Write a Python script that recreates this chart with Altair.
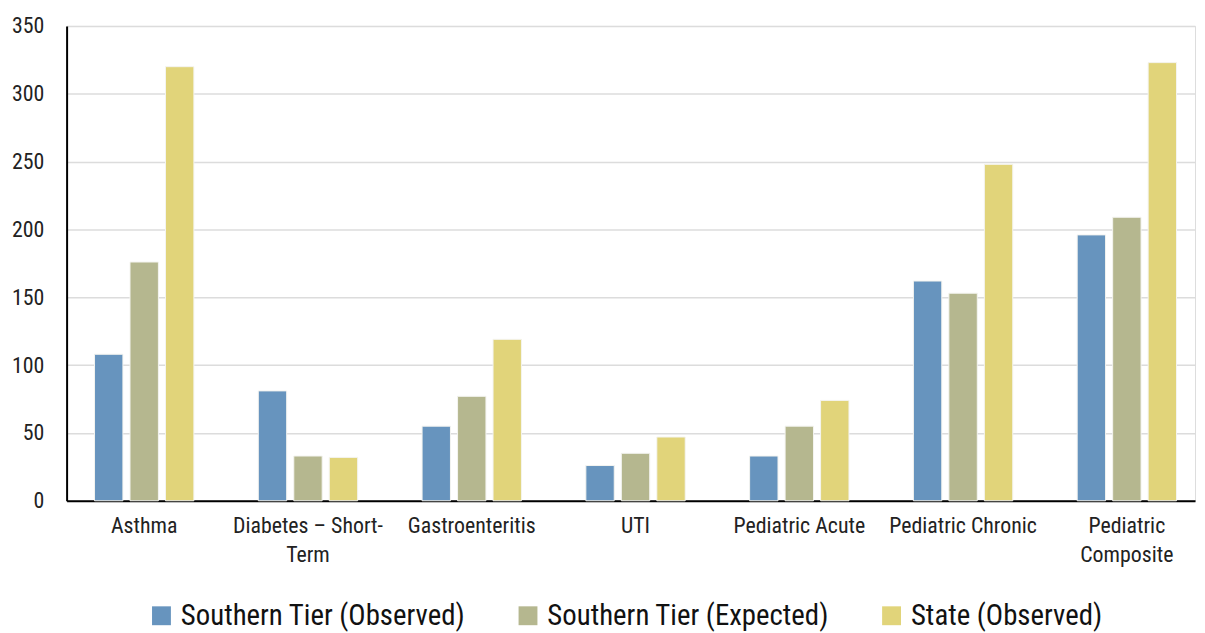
import altair as alt
import pandas as pd

categories = ["Asthma", "Diabetes – Short-Term", "Gastroenteritis", "UTI",
              "Pediatric Acute", "Pediatric Chronic", "Pediatric Composite"]
tick_labels = [["Asthma"], ["Diabetes – Short-", "Term"], ["Gastroenteritis"], ["UTI"],
               ["Pediatric Acute"], ["Pediatric Chronic"], ["Pediatric", "Composite"]]
series = ["Southern Tier (Observed)", "Southern Tier (Expected)", "State (Observed)"]
observed = [108, 81, 55, 26, 33, 162, 196]
expected = [176, 33, 77, 35, 55, 153, 209]
state = [320, 32, 119, 47, 74, 248, 323]
colors = ["#6794BE", "#B5B78F", "#E1D47A"]

rows = []
for i, c in enumerate(categories):
    for s, vals in zip(series, [observed, expected, state]):
        rows.append({"category": c, "series": s, "value": vals[i]})
df = pd.DataFrame(rows)

label_expr = " : ".join(
    f"datum.value == '{c}' ? {lab!r}" for c, lab in zip(categories, tick_labels)
) + " : datum.label"

font = "Liberation Sans Narrow, Roboto Condensed, Arial Narrow, sans-serif"

chart = alt.Chart(df).mark_bar(stroke="#f4f4f0", strokeWidth=1).encode(
    x=alt.X("category:N", sort=categories, title=None,
            scale=alt.Scale(paddingInner=0.35, paddingOuter=0.12, align=0.62),
            axis=alt.Axis(labelAngle=0, labelExpr=label_expr, labelFontSize=22,
                          labelColor="#222", labelPadding=15, ticks=False,
                          domainColor="#000", domainWidth=2, labelLineHeight=29,
                          labelFont=font, labelBaseline="top")),
    xOffset=alt.XOffset("series:N", sort=series,
                        scale=alt.Scale(paddingInner=0.2, paddingOuter=0.1)),
    y=alt.Y("value:Q", title=None,
            scale=alt.Scale(domain=[0, 350]),
            axis=alt.Axis(values=list(range(0, 351, 50)), labelFontSize=22,
                          labelColor="#222", ticks=False, domainColor="#000",
                          domainWidth=2, gridColor="#dcdcdc", gridWidth=1.5,
                          labelPadding=23, labelFont=font)),
    color=alt.Color("series:N", sort=series,
                    scale=alt.Scale(domain=series, range=colors),
                    legend=alt.Legend(title=None, orient="none", direction="horizontal",
                                      legendX=81, legendY=579,
                                      symbolType="square", symbolSize=361,
                                      symbolStrokeWidth=0, labelFontSize=29,
                                      labelOffset=5, labelFont=font, labelColor="#111",
                                      columnPadding=48, labelLimit=500)),
).properties(
    width=1136, height=478,
    padding={"left": 3, "top": 5, "right": 2, "bottom": 0},
).configure_view(stroke=None).configure(font=font)

chart.save("out.html", embed_options={"renderer": "svg", "actions": False})
